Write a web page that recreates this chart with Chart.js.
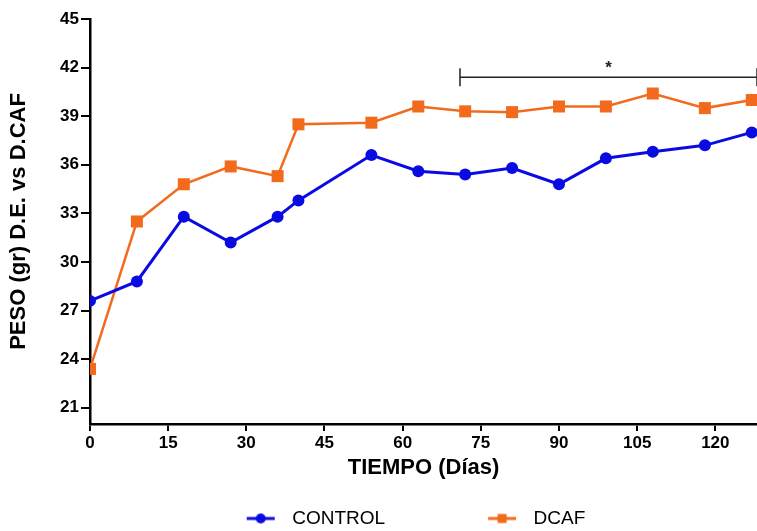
<!DOCTYPE html>
<html>
<head>
<meta charset="utf-8">
<script src="https://cdn.jsdelivr.net/npm/chart.js@4"></script>
<style>
  html, body { margin: 0; padding: 0; background: #fff; overflow: hidden; }
  #wrap { width: 757px; height: 538px; }
</style>
</head>
<body>
<div id="wrap"><canvas id="pesoChart" width="757" height="538"></canvas></div>
<script>
const days = [0, 9, 18, 27, 36, 40, 54, 63, 72, 81, 90, 99, 108, 118, 127];
const control = [27.6, 28.8, 32.8, 31.2, 32.8, 33.8, 36.6, 35.6, 35.4, 35.8, 34.8, 36.4, 36.8, 37.2, 38.0];
const dcaf = [23.4, 32.5, 34.8, 35.9, 35.3, 38.5, 38.6, 39.6, 39.3, 39.25, 39.6, 39.6, 40.4, 39.5, 40.0];
const xTicks = [0, 15, 30, 45, 60, 75, 90, 105, 120];
const yTicks = [21, 24, 27, 30, 33, 36, 39, 42, 45];
const bracketDays = [71, 128];
const bracketLevel = 41.4;
const bracketLabel = '*';

const BLUE = '#0a0ae2';
const ORANGE = '#f26b1d';
const FONT = '"Liberation Sans", Arial, sans-serif';

// legend icon: blank space on the left, then a short line with the marker
function legendIcon(color, square) {
  const c = document.createElement('canvas');
  c.width = 111; c.height = 12;
  const g = c.getContext('2d');
  const x0 = 111 - 36;
  g.strokeStyle = color;
  g.lineWidth = 3;
  g.beginPath(); g.moveTo(x0, 6); g.lineTo(x0 + 28, 6); g.stroke();
  g.fillStyle = color;
  if (square) {
    g.fillRect(x0 + 9.5, 1.5, 9, 9);
  } else {
    g.beginPath(); g.arc(x0 + 14, 6, 5, 0, Math.PI * 2); g.fill();
  }
  return c;
}

const bracketPlugin = {
  id: 'bracket',
  afterDatasetsDraw(chart) {
    const { ctx, scales } = chart;
    const x1 = scales.x.getPixelForValue(bracketDays[0]);
    const x2 = scales.x.getPixelForValue(bracketDays[1]);
    const y = scales.y.getPixelForValue(bracketLevel);
    ctx.save();
    ctx.strokeStyle = '#222';
    ctx.lineWidth = 1.5;
    ctx.beginPath();
    ctx.moveTo(x1, y - 9); ctx.lineTo(x1, y + 9);
    ctx.moveTo(x1, y); ctx.lineTo(x2, y);
    ctx.moveTo(x2, y - 9); ctx.lineTo(x2, y + 9);
    ctx.stroke();
    ctx.fillStyle = '#222';
    ctx.font = 'bold 17px ' + FONT;
    ctx.textAlign = 'center';
    ctx.textBaseline = 'bottom';
    ctx.fillText(bracketLabel, (x1 + x2) / 2, y - 1);
    ctx.restore();
  }
};

const ctx = document.getElementById('pesoChart').getContext('2d');
new Chart(ctx, {
  type: 'line',
  data: {
    datasets: [{
      label: 'CONTROL',
      data: days.map((d, i) => ({ x: d, y: control[i] })),
      borderColor: BLUE,
      backgroundColor: BLUE,
      borderWidth: 3,
      pointStyle: 'circle',
      pointRadius: 6,
      pointBorderWidth: 0,
      tension: 0
    }, {
      label: 'DCAF',
      data: days.map((d, i) => ({ x: d, y: dcaf[i] })),
      borderColor: ORANGE,
      backgroundColor: ORANGE,
      borderWidth: 2.5,
      pointStyle: 'rect',
      pointRadius: 8.5,
      pointBorderWidth: 0,
      tension: 0
    }]
  },
  options: {
    responsive: false,
    animation: false,
    layout: { autoPadding: false, padding: { top: 19, right: 0, left: 0, bottom: 0 } },
    plugins: {
      tooltip: { enabled: false },
      legend: {
        position: 'bottom',
        labels: {
          usePointStyle: true,
          pointStyleWidth: 111,
          padding: 28,
          color: '#111',
          font: { family: FONT, size: 19 },
          generateLabels(chart) {
            return chart.data.datasets.map((ds, i) => ({
              text: ds.label,
              pointStyle: legendIcon(ds.borderColor, i === 1),
              fillStyle: ds.borderColor,
              strokeStyle: ds.borderColor,
              lineWidth: 0,
              datasetIndex: i
            }));
          }
        }
      }
    },
    scales: {
      x: {
        type: 'linear',
        min: 0,
        max: 128,
        afterBuildTicks(axis) { axis.ticks = xTicks.map(v => ({ value: v })); },
        afterFit(axis) { axis.height = 57; },
        grid: { drawOnChartArea: false, drawTicks: true, tickLength: 7, color: '#000', lineWidth: 2 },
        border: { display: true, color: '#000', width: 2.5 },
        ticks: { color: '#000', font: { family: FONT, size: 17, weight: 'bold' }, padding: 2, maxRotation: 0 },
        title: { display: true, text: 'TIEMPO (Días)', color: '#000', font: { family: FONT, size: 22, weight: 'bold' }, padding: { top: 2, bottom: 0 } }
      },
      y: {
        min: 20,
        max: 45,
        afterBuildTicks(axis) { axis.ticks = yTicks.map(v => ({ value: v })); },
        afterFit(axis) { axis.width = 90; },
        grid: { drawOnChartArea: false, drawTicks: true, tickLength: 9, color: '#000', lineWidth: 2 },
        border: { display: true, color: '#000', width: 2.5 },
        ticks: { color: '#000', font: { family: FONT, size: 17, weight: 'bold' }, padding: 2 },
        title: { display: true, text: 'PESO (gr) D.E. vs D.CAF', color: '#000', font: { family: FONT, size: 22, weight: 'bold' }, padding: { top: 6, bottom: 0 } }
      }
    }
  },
  plugins: [bracketPlugin]
});
</script>
</body>
</html>
